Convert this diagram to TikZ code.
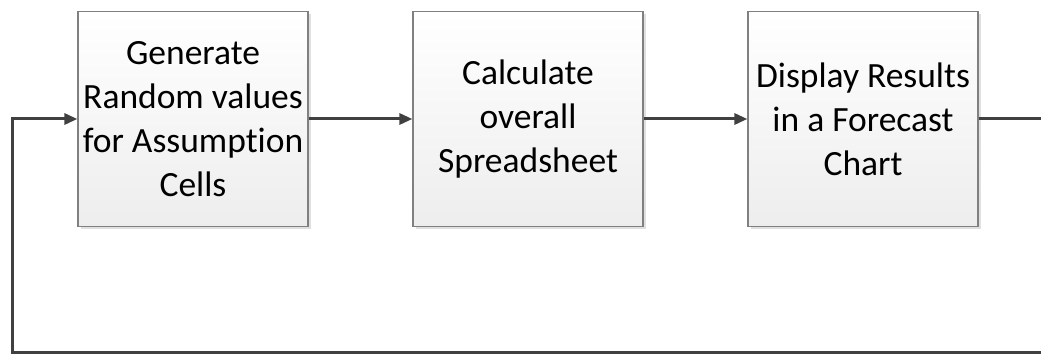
\documentclass[tikz,border=0pt]{standalone}
\usepackage{fontspec}
\setmainfont{Carlito}[Ligatures=NoCommon]
\usetikzlibrary{arrows.meta,shadows}
\begin{document}
\begin{tikzpicture}[x=1pt,y=1pt,
  procbox/.style={draw=black!50, line width=1.2pt, top color=white, bottom color=black!7,
    minimum width=230pt, minimum height=215pt, inner sep=0pt, align=center,
    font=\fontsize{35.5}{44}\selectfont,
    drop shadow={shadow xshift=2.5pt, shadow yshift=-2.5pt, fill=black!12, opacity=1}},
  flow/.style={draw=black!75, line width=3pt},
  arr/.style={flow, -{Triangle[length=13pt,width=11pt]}}]
\useasboundingbox (0,0) rectangle (1041,356);
\clip (0,0) rectangle (1041,356);
\node[procbox] (b1) at (193,237) {Generate\\Random values\\for Assumption\\Cells};
\node[procbox] (b2) at (528,237) {Calculate\\overall\\Spreadsheet};
\node[procbox] (b3) at (863,237) {Display Results\\in a Forecast\\Chart};
\coordinate (r1) at (1050,237);
\coordinate (r2) at (1050,4);
\coordinate (l1) at (12.5,4);
\draw[arr] (b1.east) -- (b2.west);
\draw[arr] (b2.east) -- (b3.west);
\draw[arr] (b3.east) -- (r1) -- (r2) -- (l1) |- (b1.west);
\end{tikzpicture}
\end{document}
